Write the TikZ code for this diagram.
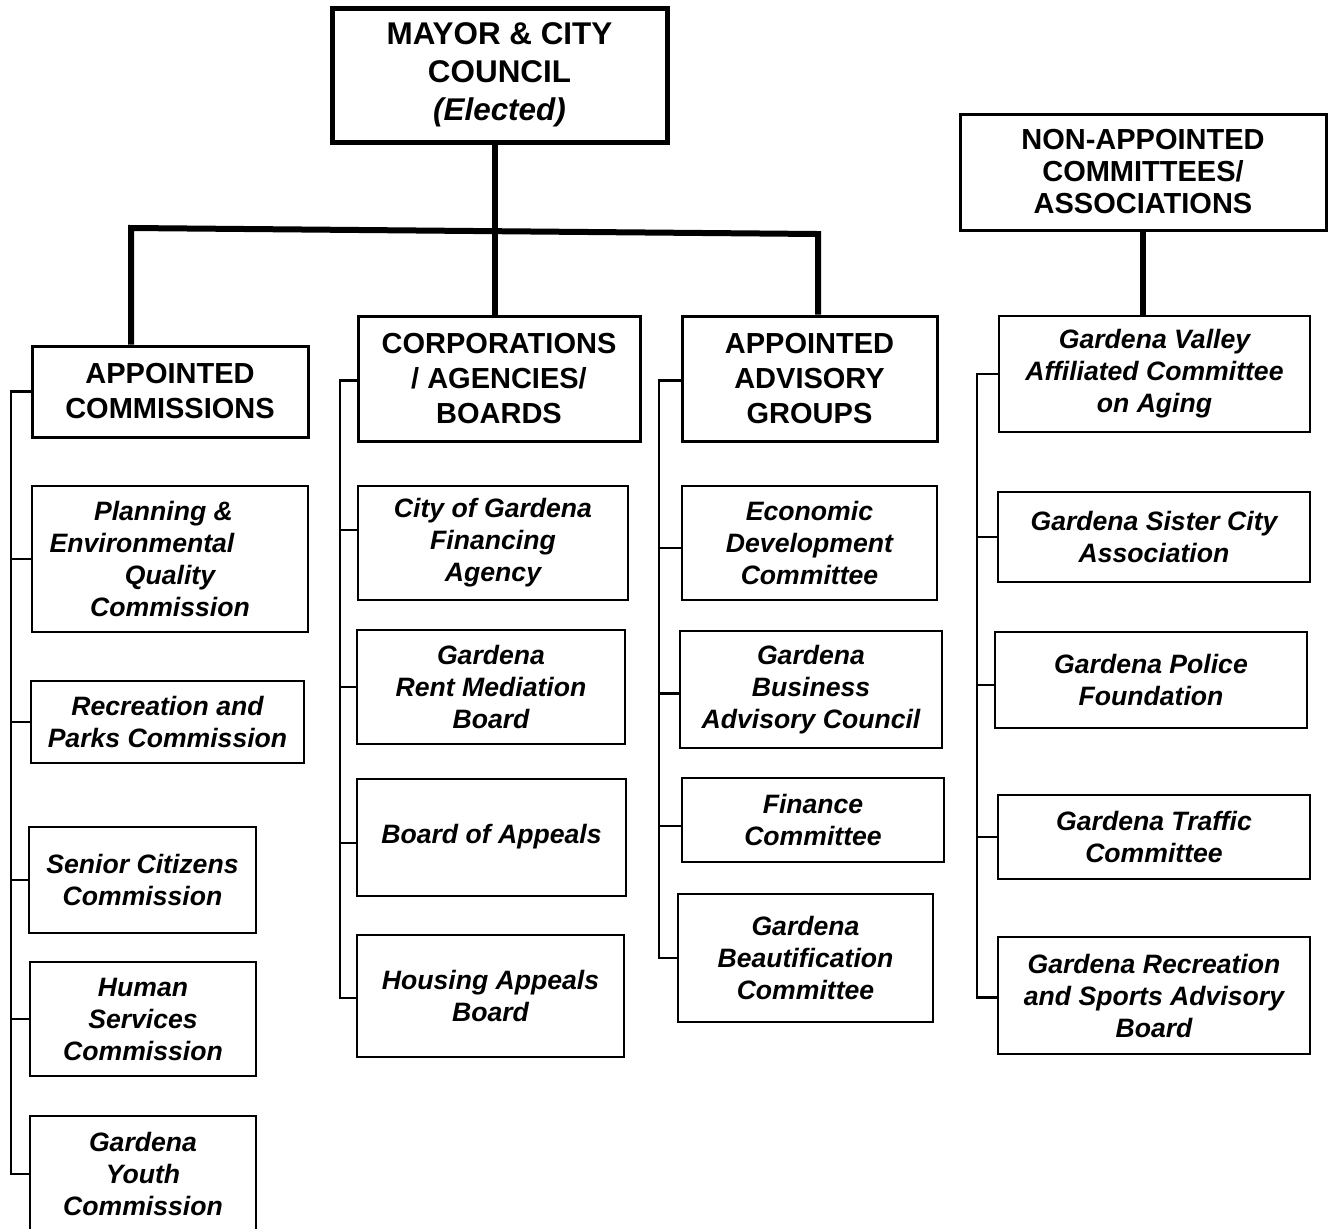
\documentclass[tikz,border=0pt]{standalone}
\usepackage{fontspec}
\setmainfont{Liberation Sans}
\usetikzlibrary{calc}

\begin{document}
\begin{tikzpicture}[x=0.5pt,y=-0.5pt,
  wh/.style 2 args={minimum width=#1*0.5pt, minimum height=#2*0.5pt},
  box/.style={draw, line width=1pt, inner sep=0pt, align=center, font=\bfseries\itshape\fontsize{13.3}{16}\selectfont},
  head/.style={box, line width=1.5pt, font=\bfseries\fontsize{14.5}{17.5}\selectfont},
  trunk/.style={line width=3pt},
  spine/.style={line width=1.2pt}]
\clip (0,0) rectangle (1328,1228);

% top level
\node[head, line width=2.5pt, wh={335}{134}, font=\bfseries\fontsize{15.7}{19}\selectfont] (mayor) at (499.5,75) {MAYOR \& CITY\\COUNCIL\\\textit{(Elected)}};
\node[head, wh={366}{116}, font=\bfseries\fontsize{14.5}{16}\selectfont] (nonapp) at (1143,172) {NON-APPOINTED\\COMMITTEES/\\ASSOCIATIONS};

% group heads
\node[head, wh={276}{91}] (comm) at (170,391.5) {APPOINTED\\COMMISSIONS};
\node[head, wh={282}{125}] (corp) at (499,378.5) {CORPORATIONS\\/ AGENCIES/\\BOARDS};
\node[head, wh={255}{125}] (advis) at (809.5,378.5) {APPOINTED\\ADVISORY\\GROUPS};
\node[box, wh={311}{116}] (valley) at (1154.5,374) {Gardena Valley\\Affiliated Committee\\on Aging};

% commissions
\node[box, wh={276}{146}] (plan) at (170,559) {Planning \&\rule{6.5pt}{0pt}\\Environmental\rule{28pt}{0pt}\\Quality\\Commission};
\node[box, wh={273}{82}] (recr) at (167.5,722) {Recreation and\\Parks Commission};
\node[box, wh={227}{106}] (senior) at (142.5,880) {Senior Citizens\\Commission};
\node[box, wh={226}{114}] (human) at (143,1019) {Human\\Services\\Commission};
\node[box, wh={226}{116}] (youth) at (143,1174) {Gardena\\Youth\\Commission};

% corporations / agencies / boards
\node[box, wh={270}{114}] (cityfin) at (493,543) {City of Gardena\\Financing\\Agency};
\node[box, wh={268}{114}] (rent) at (491,687) {Gardena\\Rent Mediation\\Board};
\node[box, wh={269}{117}] (appeals) at (491.5,837) {Board of Appeals};
\node[box, wh={267}{122}] (housing) at (490.5,996) {Housing Appeals\\Board};

% advisory groups
\node[box, wh={255}{114}] (econ) at (809.5,543) {Economic\\Development\\Committee};
\node[box, wh={262}{117}] (business) at (811,689.5) {Gardena\\Business\\Advisory Council};
\node[box, wh={262}{84}] (finance) at (813,820) {Finance\\Committee};
\node[box, wh={255}{128}] (beaut) at (805.5,958) {Gardena\\Beautification\\Committee};

% non-appointed
\node[box, wh={312}{90}] (sister) at (1154,537) {Gardena Sister City\\Association};
\node[box, wh={312}{96}] (police) at (1151,680) {Gardena Police\\Foundation};
\node[box, wh={312}{84}] (traffic) at (1154,837) {Gardena Traffic\\Committee};
\node[box, wh={312}{117}] (sports) at (1154,995.5) {Gardena Recreation\\and Sports Advisory\\Board};

% trunk lines
\coordinate (barL) at (131,228);
\coordinate (barR) at (818,234);
\coordinate (barM) at (495,0);
\draw[trunk] (mayor.south -| barM) -- (corp.north -| barM);
\draw[trunk] (comm.north -| barL) -- (barL) -- (barR) -- (advis.north -| barR);
\draw[trunk] (nonapp.south) -- (valley.north -| nonapp.south);

% spines
\coordinate (comsp) at (11,0);
\coordinate (corsp) at (340,0);
\coordinate (advsp) at (659,0);
\coordinate (nonsp) at (977,0);
\draw[spine] (comm.west) -- (comm.west -| comsp) -- (youth.west -| comsp) -- (youth.west);
\foreach \n in {plan,recr,senior,human}
  \draw[spine] (\n.west -| comsp) -- (\n.west);
\draw[spine] ([yshift=-1pt]corp.west) -- ([yshift=-1pt]corp.west -| corsp) -- ([yshift=-1pt]housing.west -| corsp) -- ([yshift=-1pt]housing.west);
\draw[spine] ([yshift=6.5pt]cityfin.west -| corsp) -- ([yshift=6.5pt]cityfin.west);
\draw[spine] (rent.west -| corsp) -- (rent.west);
\draw[spine] ([yshift=-3pt]appeals.west -| corsp) -- ([yshift=-3pt]appeals.west);
\draw[spine] ([yshift=-1pt]advis.west) -- ([yshift=-1pt]advis.west -| advsp) -- (beaut.west -| advsp) -- (beaut.west);
\draw[spine] ([yshift=-2.5pt]econ.west -| advsp) -- ([yshift=-2.5pt]econ.west);
\draw[spine] ([yshift=-2pt]business.west -| advsp) -- ([yshift=-2pt]business.west);
\draw[spine] ([yshift=-3pt]finance.west -| advsp) -- ([yshift=-3pt]finance.west);
\draw[spine] (valley.west) -- (valley.west -| nonsp) -- ([yshift=-1pt]sports.west -| nonsp) -- ([yshift=-1pt]sports.west);
\foreach \n in {sister,traffic}
  \draw[spine] (\n.west -| nonsp) -- (\n.west);
\draw[spine] ([yshift=-2.5pt]police.west -| nonsp) -- ([yshift=-2.5pt]police.west);
\end{tikzpicture}
\end{document}
